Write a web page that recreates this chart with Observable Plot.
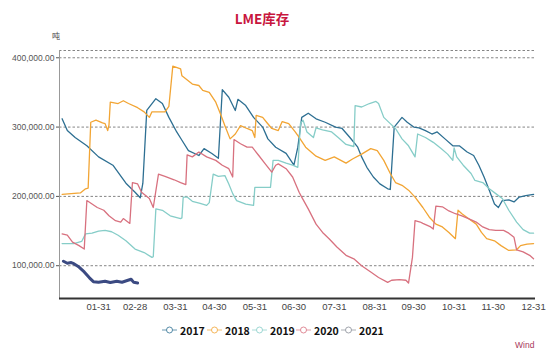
<!DOCTYPE html>
<html>
<head>
<meta charset="utf-8">
<script src="https://cdn.jsdelivr.net/npm/d3@7"></script>
<script src="https://cdn.jsdelivr.net/npm/@observablehq/plot@0.6"></script>
<style>
  html, body { margin: 0; padding: 0; background: #fff; }
  #wrap { position: relative; width: 550px; height: 357px; overflow: hidden; font-family: "Noto Sans CJK SC", "Liberation Sans", sans-serif; }
  #title { position: absolute; left: 0; width: 524px; top: 8px; text-align: center; font-weight: bold; font-size: 13.5px; color: #c8163e; line-height: 20px; }
  #unit { position: absolute; left: 52px; top: 30px; font-size: 8px; color: #444; line-height: 12px; }
  #chart { position: absolute; left: 0; top: 0; }
  .leg { position: absolute; top: 323px; height: 14px; display: flex; align-items: center; font-weight: bold; font-size: 10.5px; color: #111; }
  .leg svg { margin-right: 3px; }
  #caption { position: absolute; left: 515px; top: 340px; font-size: 8.5px; color: #a8375a; font-family: "Liberation Sans", sans-serif; }
</style>
</head>
<body>
<div id="wrap">
  <div id="chart"></div>
  <div id="title">LME库存</div>
  <div id="unit">吨</div>
  <div id="legend"></div>
  <div id="caption">Wind</div>
</div>
<script>
// ---- data (day of year, tonnes in thousands) ----
const years = ["2017", "2018", "2019", "2020", "2021"];
const colors = ["#2d6f92", "#f2a534", "#86cdc8", "#d8717f", "#3b4a82"];
const widths = [1.3, 1.3, 1.3, 1.3, 3];

const tickDays = [31, 59, 90, 120, 151, 181, 212, 243, 273, 304, 334, 365];
const tickLabels = ["01-31", "02-28", "03-31", "04-30", "05-31", "06-30", "07-31", "08-31", "09-30", "10-31", "11-30", "12-31"];
const yTicks = [100000, 200000, 300000, 400000];

const s2017 = [[3,312],[7,295],[13,285],[22,273],[31,257],[42,245],[52,219],[59,206],[63,198],[65,219],[68,324],[75,341],[80,334],[85,314],[91,293],[95,281],[100,266],[108,259],[112,269],[118,262],[123,255],[126,354],[131,343],[136,324],[138,340],[144,331],[150,314],[157,300],[161,283],[167,271],[175,262],[181,245],[184,271],[187,314],[192,320],[198,312],[205,307],[213,300],[218,298],[224,285],[230,271],[233,257],[237,242],[242,228],[247,218],[253,211],[255,210],[258,300],[264,314],[268,307],[273,300],[277,299],[282,295],[287,290],[291,293],[297,283],[303,273],[308,273],[314,264],[319,259],[323,245],[327,228],[331,209],[335,189],[338,184],[341,194],[346,195],[350,192],[354,199],[359,201],[365,203]];

const s2018 = [[3,203],[10,204],[17,205],[21,211],[23,212],[25,307],[29,310],[34,306],[36,305],[38,295],[39,303],[40,336],[46,334],[50,338],[54,334],[61,328],[66,322],[70,314],[72,322],[82,322],[85,330],[88,388],[94,384],[95,374],[103,362],[108,360],[111,353],[116,350],[121,336],[125,317],[128,302],[132,283],[136,290],[140,302],[145,298],[149,295],[151,285],[152,317],[157,314],[160,307],[164,298],[169,295],[172,308],[177,305],[182,293],[185,285],[190,271],[198,258],[205,252],[212,257],[221,248],[226,254],[233,261],[240,269],[245,266],[250,252],[255,233],[259,220],[264,216],[269,209],[274,199],[280,184],[285,170],[290,160],[295,156],[300,148],[305,139],[307,180],[310,175],[315,168],[321,160],[325,148],[329,139],[335,136],[340,129],[346,122],[352,123],[355,129],[360,131],[365,132]];

const s2019 = [[3,132],[12,132],[18,135],[21,146],[26,147],[31,150],[36,151],[41,149],[46,144],[52,136],[59,124],[66,119],[72,112],[73,113],[75,182],[80,180],[86,172],[94,168],[95,169],[96,199],[99,199],[103,193],[109,190],[114,187],[116,191],[119,232],[123,229],[128,230],[131,218],[134,204],[137,194],[144,189],[150,187],[151,213],[157,213],[163,213],[165,252],[169,252],[175,248],[180,245],[184,242],[186,305],[188,310],[191,293],[196,285],[198,299],[203,296],[210,293],[215,285],[221,275],[227,272],[228,331],[233,329],[239,334],[244,337],[246,334],[250,314],[255,305],[259,298],[264,283],[269,273],[274,257],[276,290],[282,285],[288,278],[294,269],[299,261],[303,252],[304,270],[306,257],[311,245],[317,233],[320,223],[326,220],[331,211],[336,204],[341,197],[346,180],[352,163],[357,152],[362,147],[365,147]];

const s2020 = [[3,146],[7,144],[11,134],[16,129],[20,124],[22,194],[26,189],[30,184],[35,180],[39,172],[44,165],[48,163],[50,168],[55,161],[57,220],[61,218],[64,206],[70,197],[73,184],[77,232],[82,229],[89,224],[94,220],[98,217],[99,260],[103,257],[108,264],[114,257],[121,252],[126,245],[131,240],[134,228],[135,282],[140,276],[145,271],[149,271],[154,259],[159,247],[164,235],[167,245],[169,247],[175,240],[180,228],[185,206],[187,199],[192,182],[198,160],[203,148],[208,139],[214,127],[221,115],[227,110],[233,100],[240,91],[246,83],[253,76],[256,79],[262,80],[267,79],[269,75],[272,112],[274,165],[278,163],[280,161],[286,156],[288,153],[290,186],[295,185],[300,179],[305,175],[310,172],[315,168],[321,163],[326,156],[331,152],[336,151],[342,151],[346,147],[350,141],[352,123],[357,120],[362,115],[365,110]];

const s2021 = [[4,106.5],[7,103.6],[10,104.5],[12,103],[16,98],[20,91],[24,82.5],[27,77],[31,76],[36,77.6],[40,75.7],[45,77.6],[49,76.2],[53,78.6],[56,80.5],[58,76],[61,75]];

const seriesData = [s2017, s2018, s2019, s2020, s2021];

// ---- build rows ----
const rows = seriesData.map((s, i) => s.map(([day, v]) => ({year: years[i], day, value: v * 1000})));

const yMin = 52700, yMax = 410500;

const chart = Plot.plot({
  width: 550,
  height: 320,
  marginTop: 50,
  marginBottom: 22,
  marginLeft: 59,
  marginRight: 15,
  style: {fontFamily: "'Liberation Sans', sans-serif", background: "transparent"},
  x: {domain: [1, 366.5], label: null},
  y: {domain: [yMin, yMax], label: null},
  color: {domain: years, range: colors},
  marks: [
    Plot.ruleY([...yTicks, yMax], {stroke: "#777", strokeWidth: 0.9, strokeDasharray: "2.5,2"}),
    Plot.ruleX([1], {stroke: "#999", strokeWidth: 1}),
    ...rows.map((r, i) => Plot.line(r, {x: "day", y: "value", stroke: colors[i], strokeWidth: widths[i], curve: "linear"})),
    Plot.ruleY([yMin], {stroke: "#333", strokeWidth: 2}),
    Plot.axisX({ticks: tickDays, tickFormat: (d) => tickLabels[tickDays.indexOf(d)], tickSize: 0, tickPadding: 5, fontSize: 9.5, color: "#444"}),
    Plot.axisY({ticks: yTicks, tickFormat: d3.format(",.2f"), tickSize: 3, tickPadding: 2, fontSize: 8.5, color: "#555"})
  ]
});
document.getElementById("chart").appendChild(chart);

// ---- legend ----
const legend = document.getElementById("legend");
const legX = [162, 207, 252, 296, 341];
years.forEach((y, i) => {
  const item = document.createElement("div");
  item.className = "leg";
  item.style.left = legX[i] + "px";
  const c = i === 4 ? "#8a8f99" : colors[i];
  item.innerHTML = `<svg width="15" height="10"><line x1="0" y1="5" x2="15" y2="5" stroke="${c}" stroke-opacity="0.7" stroke-width="1"/><circle cx="7.5" cy="5" r="3" fill="#fff" stroke="${c}" stroke-opacity="0.8" stroke-width="1"/></svg><span>${y}</span>`;
  legend.appendChild(item);
});
</script>
</body>
</html>
